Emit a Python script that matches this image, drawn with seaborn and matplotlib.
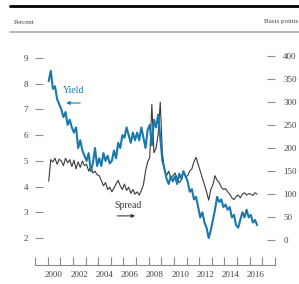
import numpy as np
import pandas as pd
import matplotlib
matplotlib.use("Agg")
import matplotlib.pyplot as plt
from matplotlib.lines import Line2D
import seaborn as sns

# ---- data (bimonthly readings, 2000 to mid-2016) ----
yield_pct = [
    8.1, 8.5, 7.8, 7.9, 7.4, 7.2,   # 2000
    7.0, 6.7, 6.9, 6.4, 6.6, 6.3,   # 2001
    6.1, 6.3, 5.5, 5.8, 5.4, 5.2,   # 2002
    5.0, 5.3, 4.6, 4.9, 5.5, 4.8,   # 2003
    5.1, 4.8, 5.3, 5.0, 5.2, 4.9,   # 2004
    5.0, 5.4, 5.1, 5.7, 5.5, 6.0,   # 2005
    5.9, 6.3, 6.0, 5.7, 6.1, 5.8,   # 2006
    6.1, 5.8, 6.3, 5.9, 5.5, 6.2,   # 2007
    6.4, 5.6, 6.6, 6.3, 6.8, 5.9,   # 2008
    5.0, 4.7, 4.3, 4.1, 4.4, 4.2,   # 2009
    4.4, 4.1, 4.5, 4.3, 4.6, 4.4,   # 2010
    4.2, 3.8, 3.9, 3.5, 3.6, 3.2,   # 2011
    2.8, 3.0, 2.6, 2.4, 2.0, 2.3,   # 2012
    2.7, 3.1, 3.6, 3.4, 3.5, 3.2,   # 2013
    3.3, 3.1, 3.2, 2.8, 2.9, 2.5,   # 2014
    2.4, 2.7, 3.0, 2.8, 3.1, 2.8,   # 2015
    2.9, 2.6, 2.7, 2.5,             # 2016
]
spread_bp = [
    128, 175, 170, 178, 165, 176,   # 2000
    172, 162, 178, 168, 175, 160,   # 2001
    174, 155, 170, 158, 172, 162,   # 2002
    165, 150, 160, 146, 150, 142,   # 2003
    140, 130, 118, 125, 110, 115,   # 2004
    105, 113, 122, 130, 118, 110,   # 2005
    122, 108, 115, 102, 110, 100,   # 2006
    105, 98, 108, 120, 150, 170,    # 2007
    180, 295, 190, 200, 230, 300,   # 2008
    190, 150, 140, 150, 135, 140,   # 2009
    146, 135, 125, 130, 148, 138,   # 2010
    140, 150, 155, 170, 180, 165,   # 2011
    150, 135, 120, 105, 87, 110,    # 2012
    120, 140, 130, 125, 115, 110,   # 2013
    112, 105, 100, 92, 88, 95,      # 2014
    98, 92, 100, 103, 98, 101,      # 2015
    100, 97, 103, 100,              # 2016
]
n = len(yield_pct)
years = 2000 + (np.arange(n) + 0.5) / 6.0
df = pd.DataFrame({"year": years, "yield": yield_pct, "spread": spread_bp})

left_ticks = [2, 3, 4, 5, 6, 7, 8, 9]
right_ticks = [0, 50, 100, 150, 200, 250, 300, 350, 400]
label_years = [2000, 2002, 2004, 2006, 2008, 2010, 2012, 2014, 2016]

BLUE = "#1b78ad"
DARK = "#3a3a3a"
TXT = "#444444"
TICKC = "#8a8a8a"

sns.set_style("white")
plt.rcParams["font.family"] = ["Liberation Serif", "DejaVu Serif"]

W, H = 299, 284
fig = plt.figure(figsize=(W / 100, H / 100), dpi=100)
ax = fig.add_axes([35 / W, 1 - 265 / H, 240 / W, 225 / H])
ax2 = ax.twinx()

sns.lineplot(data=df, x="year", y="spread", ax=ax2, color=DARK, lw=0.8)
sns.lineplot(data=df, x="year", y="yield", ax=ax, color=BLUE, lw=1.5)
ax.set_zorder(ax2.get_zorder() + 1)
ax.patch.set_visible(False)

ax.set_xlim(1999, 2018)
ax.set_ylim(0.95, 9.70)
ax2.set_ylim(-54, 435)

for a in (ax, ax2):
    for s in a.spines.values():
        s.set_visible(False)
    a.set_xlabel("")
    a.set_ylabel("")
ax.spines["bottom"].set_visible(True)
ax.spines["bottom"].set_color(TICKC)
ax.spines["bottom"].set_linewidth(0.8)

ax.set_yticks(left_ticks)
ax.set_yticklabels([str(t) for t in left_ticks])
ax.tick_params(axis="y", direction="in", length=6, width=0.8, color=TICKC,
               labelsize=6.5, labelcolor=TXT, pad=5, left=True)
ax2.set_yticks(right_ticks)
ax2.set_yticklabels([str(t) for t in right_ticks])
ax2.tick_params(axis="y", direction="in", length=6, width=0.8, color=TICKC,
                labelsize=6.5, labelcolor=TXT, pad=6, right=True)

ax.set_xticks(np.arange(1999, 2019))
ax.set_xticklabels([])
ax.set_xticks([y + 0.5 for y in label_years], minor=True)
ax.set_xticklabels([str(y) for y in label_years], minor=True)
ax.tick_params(axis="x", which="major", direction="in", length=6, width=0.8,
               color=TICKC, bottom=True)
ax.tick_params(axis="x", which="minor", length=0, labelsize=6.5,
               labelcolor=TXT, pad=4)

ax.annotate("", xy=(2001.25, 7.25), xytext=(2002.8, 7.25),
            arrowprops=dict(arrowstyle="-|>", color=BLUE, lw=0.8,
                            mutation_scale=5))
ax.text(2002.05, 7.72, "Yield", color=BLUE, fontsize=7, ha="center", va="center")
ax.annotate("", xy=(2007.15, 2.86), xytext=(2005.3, 2.86),
            arrowprops=dict(arrowstyle="-|>", color=DARK, lw=0.8,
                            mutation_scale=5))
ax.text(2006.4, 3.28, "Spread", color=DARK, fontsize=7, ha="center", va="center")

fig.add_artist(Line2D([10 / W, 1], [1 - 6 / H] * 2, color="black", lw=2.0))
fig.add_artist(Line2D([10 / W, 1], [1 - 32 / H] * 2, color="#aaaaaa", lw=1.2))
fig.text(14 / W, 1 - 22 / H, "Percent", fontsize=5, color=TXT, va="center", ha="left")
fig.text(298 / W, 1 - 22 / H, "Basis points", fontsize=5, color=TXT, va="center", ha="right")

fig.savefig("out.png", dpi=100)
